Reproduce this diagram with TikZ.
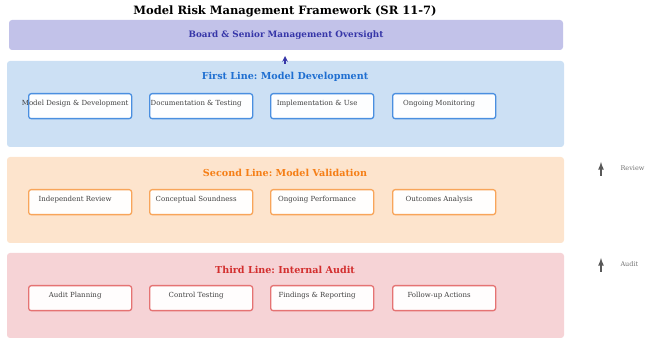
\documentclass[tikz,border=0pt]{standalone}
\usepackage{fontspec}
\setmainfont{DejaVu Serif}
\usepackage{xcolor}
\usetikzlibrary{arrows}
\frenchspacing
\definecolor{boardfill}{HTML}{C2C2E9}
\definecolor{boardtext}{HTML}{3636A8}
\definecolor{firstfill}{HTML}{CCE0F4}
\definecolor{firsttext}{HTML}{1F6FD1}
\definecolor{firstedge}{HTML}{4A8FE0}
\definecolor{secondfill}{HTML}{FDE4CD}
\definecolor{secondtext}{HTML}{F57F17}
\definecolor{secondedge}{HTML}{F8A55A}
\definecolor{thirdfill}{HTML}{F6D3D6}
\definecolor{thirdtext}{HTML}{D32F2F}
\definecolor{thirdedge}{HTML}{E57373}

\begin{document}
\begin{tikzpicture}[x=1pt,y=-1pt,
  layer/.style={rounded corners=3pt, draw=none},
  linetitle/.style={font=\fontsize{9.6}{11}\selectfont\bfseries},
  itembox/.style={draw, line width=1.3pt, rounded corners=2.5pt, minimum width=103pt, minimum height=25pt, inner sep=0pt, anchor=north west},
  itemtext/.style={font=\fontsize{7}{8}\selectfont, text=black!75},
  sidearrow/.style={-latex, line width=1.6pt, draw=black!65},
  sidetext/.style={font=\fontsize{6.5}{7}\selectfont, text=black!55, anchor=west}
  ]
  \useasboundingbox (0,0) rectangle (646,339);
  \def\bw{103}
  \def\bx{{28,149,270,392}}

  %Title and board strip
  \node[font=\fontsize{11.5}{13}\selectfont\bfseries] (title) at (285,11) {Model Risk Management Framework (SR 11-7)};
  \fill[boardfill, rounded corners=3pt] (9,20) rectangle (563,50);
  \node[font=\fontsize{8.8}{10}\selectfont\bfseries, text=boardtext] (board) at (286,35) {Board \& Senior Management Oversight};

  %The three lines of defence
  \fill[layer, firstfill] (7,61) rectangle (564,147);
  \fill[layer, secondfill] (7,157) rectangle (564,243);
  \fill[layer, thirdfill] (7,253) rectangle (564,338);

  \coordinate (up) at (285,56);
  \coordinate (upfrom) at (285,64);
  \draw[-stealth, line width=1.5pt, boardtext] (upfrom) -- (up);

  \node[linetitle, text=firsttext] (first) at (285,77) {First Line: Model Development};
  \node[linetitle, text=secondtext] (second) at (285,173) {Second Line: Model Validation};
  \node[linetitle, text=thirdtext] (third) at (285,270) {Third Line: Internal Audit};

  %Boxes of the first line
  \foreach \txt [count=\i from 0] in {Model Design \& Development, Documentation \& Testing, Implementation \& Use, Ongoing Monitoring}
  {
    \pgfmathsetmacro{\x}{\bx[\i]}
    \node[itembox, draw=firstedge, fill=white!80!firstfill!20] (fb\i) at (\x,93) {};
    \node[itemtext] (fbt\i) at ([xshift=-5pt,yshift=2.5pt]fb\i.center) {\txt};
  }
  %Boxes of the second line
  \foreach \txt [count=\i from 0] in {Independent Review, Conceptual Soundness, Ongoing Performance, Outcomes Analysis}
  {
    \pgfmathsetmacro{\x}{\bx[\i]}
    \node[itembox, draw=secondedge, fill=white!80!secondfill!20] (sb\i) at (\x,189) {};
    \node[itemtext] (sbt\i) at ([xshift=-5pt,yshift=2.5pt]sb\i.center) {\txt};
  }
  %Boxes of the third line
  \foreach \txt [count=\i from 0] in {Audit Planning, Control Testing, Findings \& Reporting, Follow-up Actions}
  {
    \pgfmathsetmacro{\x}{\bx[\i]}
    \node[itembox, draw=thirdedge, fill=white!80!thirdfill!20] (tb\i) at (\x,285) {};
    \node[itemtext] (tbt\i) at ([xshift=-5pt,yshift=2.5pt]tb\i.center) {\txt};
  }

  %Reporting arrows on the right
  \coordinate (rvfrom) at (601,176);
  \coordinate (rvto) at (601,162);
  \draw[sidearrow] (rvfrom) -- (rvto);
  \node[sidetext] (review) at (617,168) {Review};
  \coordinate (adfrom) at (601,272);
  \coordinate (adto) at (601,258);
  \draw[sidearrow] (adfrom) -- (adto);
  \node[sidetext] (audit) at (617,264) {Audit};
\end{tikzpicture}
\end{document}
